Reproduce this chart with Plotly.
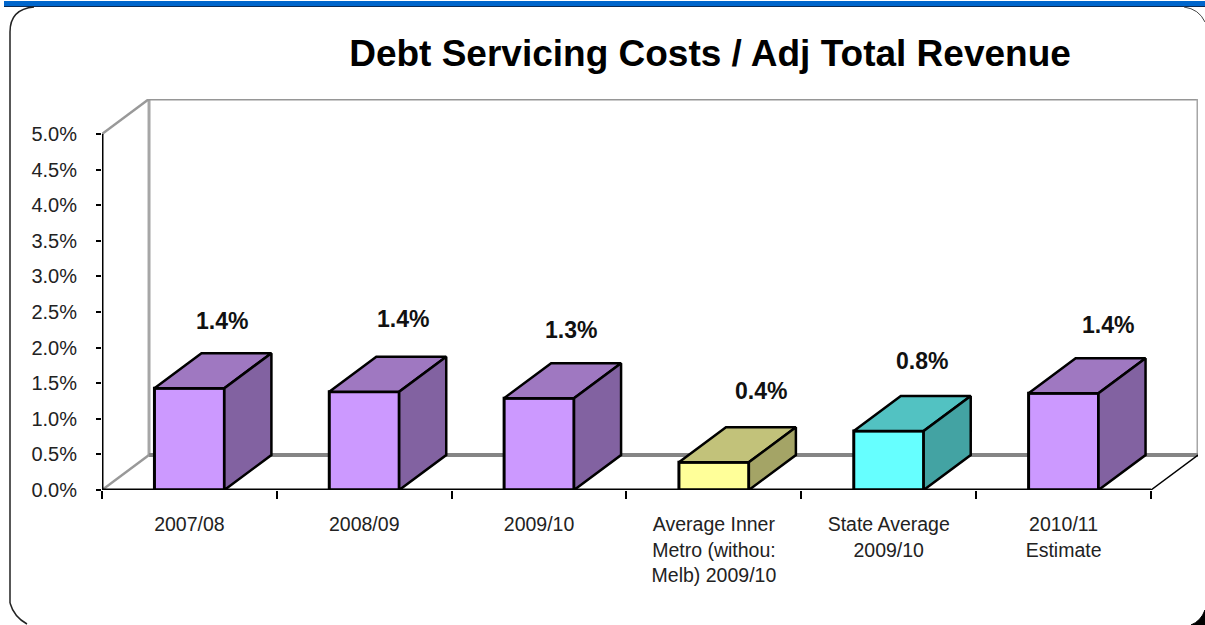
import plotly.graph_objects as go

W, H = 1205, 625
FIG_HEIGHT = 636

# Chart content
title = "Debt Servicing Costs / Adj Total Revenue"
categories = [
    "2007/08",
    "2008/09",
    "2009/10",
    "Average Inner<br>Metro (withou:<br>Melb) 2009/10",
    "State Average<br>2009/10",
    "2010/11<br>Estimate",
]
values = [1.43, 1.38, 1.29, 0.39, 0.83, 1.36]
y_ticks = [0, 0.5, 1, 1.5, 2, 2.5, 3, 3.5, 4, 4.5, 5]

# Face colours of each bar: front, top, side
PURPLE = ("#CC99FF", "#9F78C1", "#8262A1")
YELLOW = ("#FFFF99", "#C2C27A", "#A4A466")
CYAN = ("#66FFFF", "#52C2C2", "#43A3A3")
bar_colors = [PURPLE, PURPLE, PURPLE, YELLOW, CYAN, PURPLE]

# Perspective offset of the back plane, in axis units
DEPTH_X = 0.269
DEPTH_Y = 0.4916
BAR_WIDTH = 0.4
N = len(categories)

# Hand placement of the value labels, in pixels from the bar's top centre
label_shift = [(33, 67), (39, 73), (32, 68), (47, 71), (33, 70), (44, 68)]


def px(x):
    return x / W


def py(y):
    return 1 - y / H


fig = go.Figure()

# Front faces
centers = [i + 0.5 for i in range(N)]
fig.add_trace(go.Bar(
    x=centers, y=values, width=BAR_WIDTH,
    marker=dict(color=[c[0] for c in bar_colors], line=dict(color="black", width=3)),
    hoverinfo="skip", showlegend=False,
))

# Top and side faces follow the same values, pushed back by the depth offset
for cx, v, colors in zip(centers, values, bar_colors):
    left, right = cx - BAR_WIDTH / 2, cx + BAR_WIDTH / 2
    fig.add_trace(go.Scatter(
        x=[left, right, right + DEPTH_X, left + DEPTH_X, left],
        y=[v, v, v + DEPTH_Y, v + DEPTH_Y, v],
        mode="lines", fill="toself", fillcolor=colors[1],
        line=dict(color="black", width=2.5), hoverinfo="skip", showlegend=False,
    ))
    fig.add_trace(go.Scatter(
        x=[right, right + DEPTH_X, right + DEPTH_X, right, right],
        y=[0, DEPTH_Y, v + DEPTH_Y, v, 0],
        mode="lines", fill="toself", fillcolor=colors[2],
        line=dict(color="black", width=2.5), hoverinfo="skip", showlegend=False,
    ))


def seg(x0, y0, x1, y1, color, width, layer="below"):
    return dict(type="line", xref="x", yref="y", x0=x0, y0=y0, x1=x1, y1=y1,
                line=dict(color=color, width=width), layer=layer)


top, right_end = 5, N
shapes = [
    # Back wall and floor
    seg(DEPTH_X, DEPTH_Y, DEPTH_X, top + DEPTH_Y, "#A6A6A6", 3),
    seg(DEPTH_X, top + DEPTH_Y, right_end + DEPTH_X, top + DEPTH_Y, "#969696", 3),
    seg(right_end + DEPTH_X, DEPTH_Y, right_end + DEPTH_X, top + DEPTH_Y, "#A6A6A6", 3),
    seg(DEPTH_X, DEPTH_Y, right_end + DEPTH_X, DEPTH_Y, "#858585", 4),
    seg(0, 0, DEPTH_X, DEPTH_Y, "#999999", 2.5),
    seg(0, top, DEPTH_X, top + DEPTH_Y, "#999999", 2.5),
    seg(right_end, 0, right_end + DEPTH_X, DEPTH_Y, "black", 1.5),
    # Front axes
    seg(0, 0, 0, top, "black", 3, "above"),
    seg(0, 0, right_end, 0, "black", 3, "above"),
]


def page_path(d, **kw):
    return dict(type="path", xref="paper", yref="paper", path=d, layer="below", **kw)


def pt(x, y):
    return f"{px(x):.5f},{py(y):.5f}"


shapes += [
    # Blue band across the top of the slide
    dict(type="rect", xref="paper", yref="paper", x0=px(4), x1=px(W), y0=py(6), y1=py(1),
         fillcolor="#0066CC", line_width=0, layer="below"),
    dict(type="line", xref="paper", yref="paper", x0=px(4), x1=px(W), y0=py(6.5), y1=py(6.5),
         line=dict(color="#0A2A55", width=1), layer="below"),
    # Rounded panel outline
    page_path(f"M {pt(10, 603)} L {pt(10, 32)} Q {pt(10, 9)} {pt(34, 7)}",
              line=dict(color="#222222", width=1.5)),
    page_path(f"M {pt(10, 603)} Q {pt(14, 617)} {pt(27, 624)}",
              line=dict(color="#222222", width=1.5)),
    page_path(f"M {pt(1184, 7)} Q {pt(1199, 9)} {pt(1205, 22)}",
              line=dict(color="#444444", width=1)),
    page_path(f"M {pt(1205, 610)} Q {pt(1201, 621)} {pt(1191, 625)} L {pt(1205, 625)} Z",
              fillcolor="black", line=dict(color="black", width=1)),
]

annotations = [
    dict(x=cx, y=v, xref="x", yref="y", text=f"<b>{v:.1f}%</b>", showarrow=False,
         xshift=dx, yshift=dy, xanchor="center", yanchor="middle",
         font=dict(family="Liberation Sans", size=23, color="#111111"))
    for cx, v, (dx, dy) in zip(centers, values, label_shift)
]

fig.update_layout(
    width=W, height=FIG_HEIGHT,
    margin=dict(l=0, r=0, t=0, b=0),
    paper_bgcolor="white", plot_bgcolor="white",
    showlegend=False,
    font=dict(family="Liberation Sans", color="#222222"),
    title=dict(text=f"<b>{title}</b>", x=710 / W, xanchor="center", y=py(52), yanchor="middle",
               font=dict(family="Liberation Sans", size=37, color="black")),
    xaxis=dict(
        domain=[px(102), px(1198)], range=[0, N + DEPTH_X],
        tickmode="array", tickvals=centers, ticktext=categories,
        ticks="outside", ticklen=0, tickcolor="black", tickangle=0,
        ticklabelstandoff=17, tickfont=dict(size=19.5),
        showgrid=False, zeroline=False, showline=False,
        minor=dict(tickmode="array", tickvals=list(range(N + 1)), ticks="outside",
                   ticklen=8, tickwidth=2, tickcolor="black", showgrid=False),
    ),
    yaxis=dict(
        domain=[py(490), py(99)], range=[0, top + DEPTH_Y],
        tickmode="array", tickvals=y_ticks, ticktext=[f"{t:.1f}%" for t in y_ticks],
        ticks="outside", ticklen=5, tickwidth=1.5, tickcolor="black",
        ticklabelstandoff=15, tickfont=dict(size=20),
        showgrid=False, zeroline=False, showline=False,
    ),
    shapes=shapes,
    annotations=annotations,
)

fig.write_html("out.html")
